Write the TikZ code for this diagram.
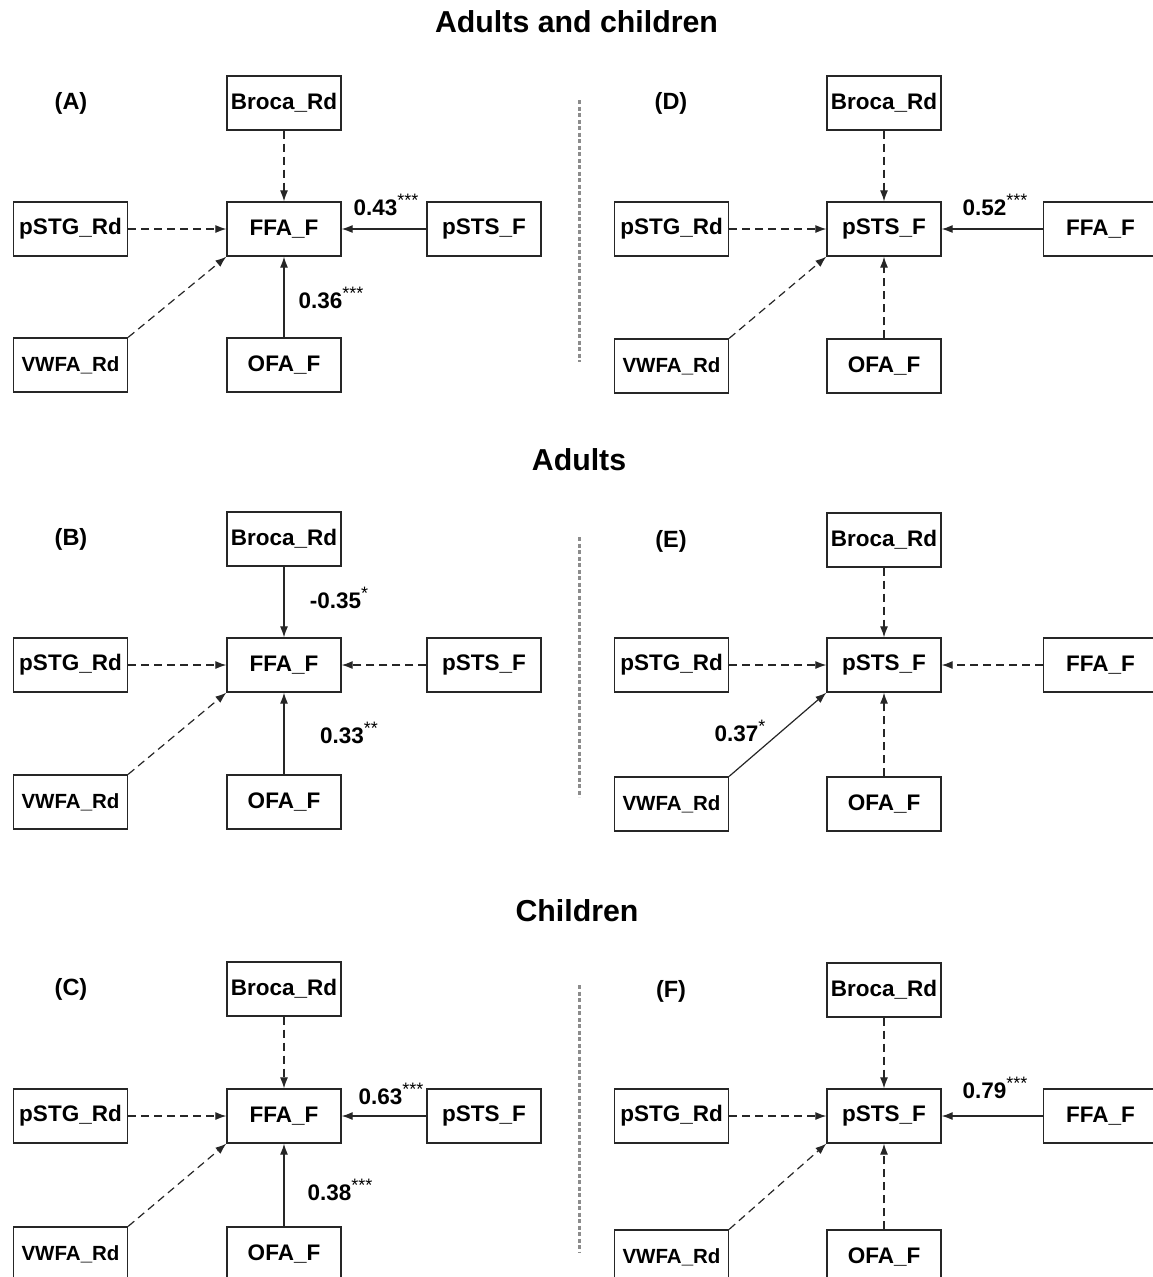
\documentclass[tikz,border=0pt]{standalone}
\usepackage{fontspec}
\setmainfont{Liberation Sans}
\usetikzlibrary{arrows.meta}
\tikzset{
 box/.style={draw=black!85, line width=1.3pt, minimum width=114pt, minimum height=54pt, inner sep=0pt, font=\bfseries\fontsize{22.5}{27}\selectfont},
 smallbox/.style={box, font=\bfseries\fontsize{20.5}{25}\selectfont},
 sig/.style={draw=black!85, line width=1.2pt, -{Latex[length=11pt,width=8pt]}},
 ns/.style={sig, dash pattern=on 8pt off 5pt},
 coef/.style={font=\bfseries\fontsize{22.5}{27}\selectfont, inner sep=0pt},
 plabel/.style={font=\bfseries\fontsize{23.5}{27}\selectfont, inner sep=0pt},
 ttl/.style={font=\bfseries\fontsize{30.3}{34}\selectfont, inner sep=0pt},
 sepline/.style={draw=black!45, line width=3pt, dash pattern=on 4pt off 2.5pt}
}
\newcommand\mystars[1]{\raisebox{0.40em}{\fontsize{18}{18}\selectfont\mdseries #1}}
\begin{document}
\begin{tikzpicture}[x=1pt,y=-1pt]
\useasboundingbox (0,0) rectangle (1153,1277);
\clip (0,0) rectangle (1153,1277);
\fill[white] (0,0) rectangle (1153,1277);

% titles
\node[ttl] (t1) at (576.5,22) {Adults and children};
\node[ttl] (t2) at (579,460) {Adults};
\node[ttl] (t3) at (577,911) {Children};

% separators
\coordinate (s1a) at (579,100); \coordinate (s1b) at (579,362);
\coordinate (s2a) at (579,537); \coordinate (s2b) at (579,797);
\coordinate (s3a) at (579,985); \coordinate (s3b) at (579,1252);
\draw[sepline] (s1a) -- (s1b);
\draw[sepline] (s2a) -- (s2b);
\draw[sepline] (s3a) -- (s3b);

% ---------- Panel A ----------
\node[plabel] (A) at (71,103) {(A)};
\node[box] (A-broca) at (284,103) {Broca\_Rd};
\node[box] (A-ffa) at (284,229) {FFA\_F};
\node[box] (A-pstg) at (70.5,229) {pSTG\_Rd};
\node[box] (A-psts) at (484,229) {pSTS\_F};
\node[smallbox] (A-vwfa) at (70.5,365) {VWFA\_Rd};
\node[box] (A-ofa) at (284,365) {OFA\_F};
\draw[ns] (A-broca) -- (A-ffa);
\draw[ns] (A-pstg) -- (A-ffa);
\draw[sig] (A-psts) -- (A-ffa);
\draw[ns] (A-vwfa.north east) -- (A-ffa.south west);
\draw[sig] (A-ofa) -- (A-ffa);
\node[coef] (A-c1) at (386,205) {0.43\mystars{***}};
\node[coef] (A-c2) at (331,298) {0.36\mystars{***}};

% ---------- Panel B ----------
\node[plabel] (B) at (71,539) {(B)};
\node[box] (B-broca) at (284,539) {Broca\_Rd};
\node[box] (B-ffa) at (284,665) {FFA\_F};
\node[box] (B-pstg) at (70.5,665) {pSTG\_Rd};
\node[box] (B-psts) at (484,665) {pSTS\_F};
\node[smallbox] (B-vwfa) at (70.5,802) {VWFA\_Rd};
\node[box] (B-ofa) at (284,802) {OFA\_F};
\draw[sig] (B-broca) -- (B-ffa);
\draw[ns] (B-pstg) -- (B-ffa);
\draw[ns] (B-psts) -- (B-ffa);
\draw[ns] (B-vwfa.north east) -- (B-ffa.south west);
\draw[sig] (B-ofa) -- (B-ffa);
\node[coef] (B-c1) at (339,598) {-0.35\mystars{*}};
\node[coef] (B-c2) at (349,733) {0.33\mystars{**}};

% ---------- Panel C ----------
\node[plabel] (C) at (71,989) {(C)};
\node[box] (C-broca) at (284,989) {Broca\_Rd};
\node[box] (C-ffa) at (284,1116) {FFA\_F};
\node[box] (C-pstg) at (70.5,1116) {pSTG\_Rd};
\node[box] (C-psts) at (484,1116) {pSTS\_F};
\node[smallbox] (C-vwfa) at (70.5,1254) {VWFA\_Rd};
\node[box] (C-ofa) at (284,1254) {OFA\_F};
\draw[ns] (C-broca) -- (C-ffa);
\draw[ns] (C-pstg) -- (C-ffa);
\draw[sig] (C-psts) -- (C-ffa);
\draw[ns] (C-vwfa.north east) -- (C-ffa.south west);
\draw[sig] (C-ofa) -- (C-ffa);
\node[coef] (C-c1) at (391,1094) {0.63\mystars{***}};
\node[coef] (C-c2) at (340,1190) {0.38\mystars{***}};

% ---------- Panel D ----------
\node[plabel] (D) at (671,103) {(D)};
\node[box] (D-broca) at (884,103) {Broca\_Rd};
\node[box] (D-psts) at (884,229) {pSTS\_F};
\node[box] (D-pstg) at (671.5,229) {pSTG\_Rd};
\node[box] (D-ffa) at (1100.5,229) {FFA\_F};
\node[smallbox] (D-vwfa) at (671.5,366) {VWFA\_Rd};
\node[box] (D-ofa) at (884,366) {OFA\_F};
\draw[ns] (D-broca) -- (D-psts);
\draw[ns] (D-pstg) -- (D-psts);
\draw[sig] (D-ffa) -- (D-psts);
\draw[ns] (D-vwfa.north east) -- (D-psts.south west);
\draw[ns] (D-ofa) -- (D-psts);
\node[coef] (D-c1) at (995,205) {0.52\mystars{***}};

% ---------- Panel E ----------
\node[plabel] (E) at (671,541) {(E)};
\node[box] (E-broca) at (884,540) {Broca\_Rd};
\node[box] (E-psts) at (884,665) {pSTS\_F};
\node[box] (E-pstg) at (671.5,665) {pSTG\_Rd};
\node[box] (E-ffa) at (1100.5,665) {FFA\_F};
\node[smallbox] (E-vwfa) at (671.5,804) {VWFA\_Rd};
\node[box] (E-ofa) at (884,804) {OFA\_F};
\draw[ns] (E-broca) -- (E-psts);
\draw[ns] (E-pstg) -- (E-psts);
\draw[ns] (E-ffa) -- (E-psts);
\draw[sig] (E-vwfa.north east) -- (E-psts.south west);
\draw[ns] (E-ofa) -- (E-psts);
\node[coef] (E-c1) at (740,731) {0.37\mystars{*}};

% ---------- Panel F ----------
\node[plabel] (F) at (671,991) {(F)};
\node[box] (F-broca) at (884,990) {Broca\_Rd};
\node[box] (F-psts) at (884,1116) {pSTS\_F};
\node[box] (F-pstg) at (671.5,1116) {pSTG\_Rd};
\node[box] (F-ffa) at (1100.5,1116) {FFA\_F};
\node[smallbox] (F-vwfa) at (671.5,1257) {VWFA\_Rd};
\node[box] (F-ofa) at (884,1257) {OFA\_F};
\draw[ns] (F-broca) -- (F-psts);
\draw[ns] (F-pstg) -- (F-psts);
\draw[sig] (F-ffa) -- (F-psts);
\draw[ns] (F-vwfa.north east) -- (F-psts.south west);
\draw[ns] (F-ofa) -- (F-psts);
\node[coef] (F-c1) at (995,1088) {0.79\mystars{***}};
\end{tikzpicture}
\end{document}
